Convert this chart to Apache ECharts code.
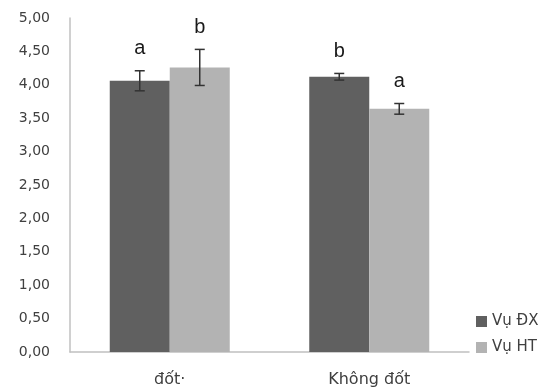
<!DOCTYPE html>
<html>
<head>
<meta charset="utf-8">
<script src="https://cdn.jsdelivr.net/npm/echarts@6/dist/echarts.min.js"></script>
<style>
  html, body { margin: 0; padding: 0; background: #fff; }
  #chart { width: 545px; height: 390px; }
</style>
</head>
<body>
<div id="chart"></div>
<script>
var categories = ['đốt·', 'Không đốt'];
var seriesNames = ['Vụ ĐX', 'Vụ HT'];
var valuesDX = [4.06, 4.12];
var valuesHT = [4.26, 3.64];
var errDX = [0.15, 0.05];
var errHT = [0.27, 0.08];
var lettersDX = ['a', 'b'];
var lettersHT = ['b', 'a'];

var colDark = '#606060';
var colLight = '#b3b3b3';
var barW = 60;

// error bar + letter drawn over each bar, side = -1 left bar, +1 right bar
function errSeries(vals, errs, letters, side) {
  return {
    type: 'custom',
    z: 10,
    data: vals.map(function (v, i) { return [i, v, errs[i]]; }),
    renderItem: function (params, api) {
      var i = params.dataIndex;
      var v = api.value(1), e = api.value(2);
      var c = api.coord([api.value(0), v]);
      var x = c[0] + side * barW / 2;
      var top = api.coord([api.value(0), v + e])[1];
      var bot = api.coord([api.value(0), v - e])[1];
      var st = { stroke: '#333', lineWidth: 1.5 };
      return {
        type: 'group',
        children: [
          { type: 'line', shape: { x1: x, y1: top, x2: x, y2: bot }, style: st },
          { type: 'line', shape: { x1: x - 5, y1: top, x2: x + 5, y2: top }, style: st },
          { type: 'line', shape: { x1: x - 5, y1: bot, x2: x + 5, y2: bot }, style: st },
          { type: 'text', x: x, y: top - 12,
            style: { text: letters[i], fill: '#1a1a1a', font: '20px "Liberation Sans"',
                     align: 'center', verticalAlign: 'bottom' } }
        ]
      };
    }
  };
}

var chart = echarts.init(document.getElementById('chart'));
chart.setOption({
  animation: false,
  textStyle: { fontFamily: 'DejaVu Sans' },
  grid: { left: 70, right: 76, top: 18, bottom: 38 },
  legend: {
    orient: 'vertical',
    left: 471,
    top: 309,
    itemWidth: 11,
    itemHeight: 11,
    itemGap: 11,
    icon: 'rect',
    textStyle: { color: '#404040', fontSize: 15, fontFamily: 'DejaVu Sans' },
    data: seriesNames
  },
  xAxis: {
    type: 'category',
    data: categories,
    axisLine: { lineStyle: { color: '#c0c0c0', width: 1.5 } },
    axisTick: { show: false },
    axisLabel: { color: '#404040', fontSize: 16, margin: 20 }
  },
  yAxis: {
    type: 'value',
    min: 0,
    max: 5,
    interval: 0.5,
    axisLine: { show: true, lineStyle: { color: '#c0c0c0', width: 1.5 } },
    axisTick: { show: false },
    splitLine: { show: false },
    axisLabel: {
      color: '#404040', fontSize: 14, margin: 20,
      formatter: function (v) { return v.toFixed(2).replace('.', ','); }
    }
  },
  series: [
    { name: seriesNames[0], type: 'bar', data: valuesDX, barWidth: barW, barGap: '0%',
      itemStyle: { color: colDark } },
    { name: seriesNames[1], type: 'bar', data: valuesHT, barWidth: barW, barGap: '0%',
      itemStyle: { color: colLight } },
    errSeries(valuesDX, errDX, lettersDX, -1),
    errSeries(valuesHT, errHT, lettersHT, 1)
  ]
});
</script>
</body>
</html>
